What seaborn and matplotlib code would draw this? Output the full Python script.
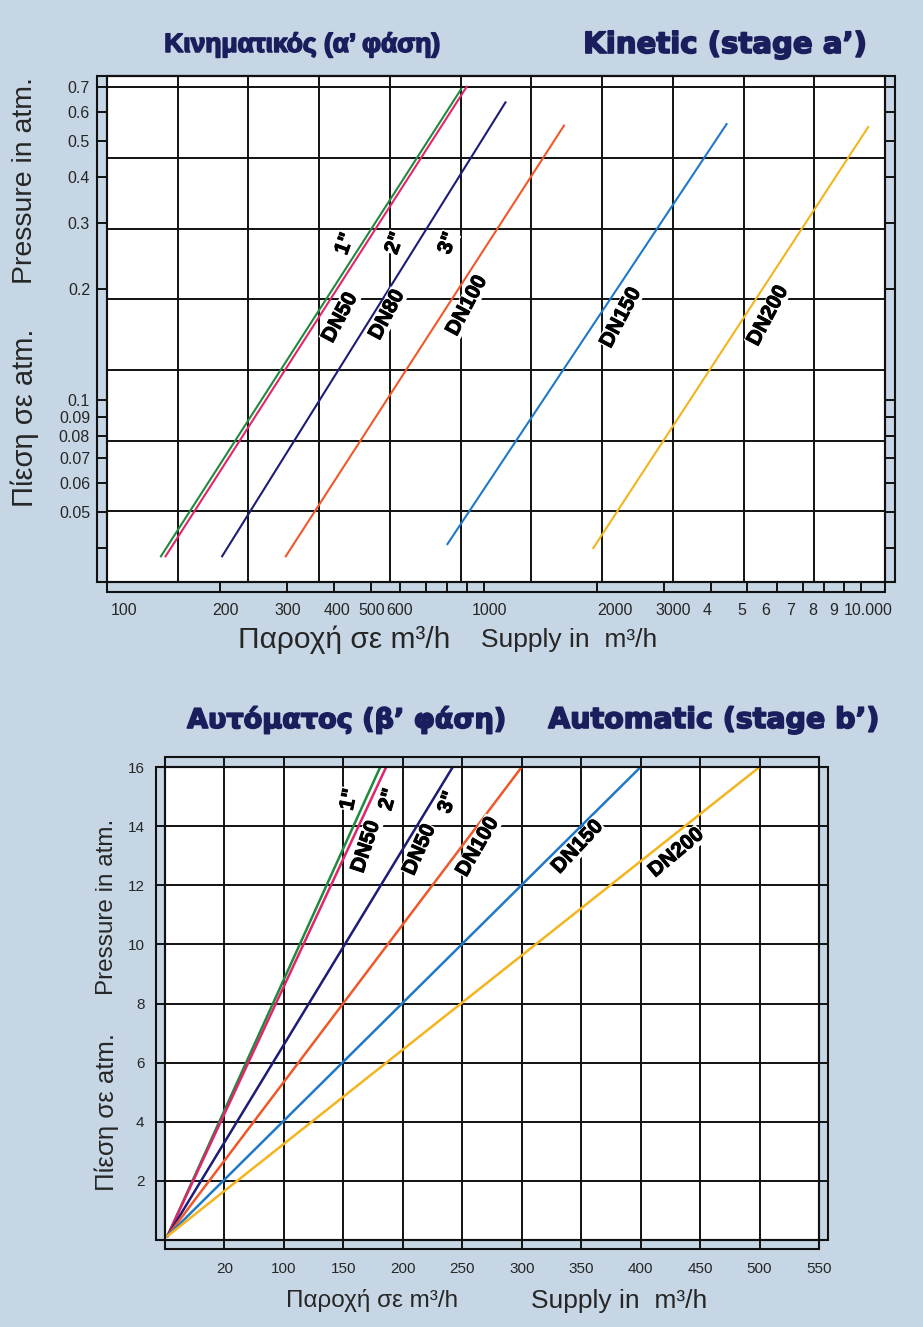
import matplotlib
matplotlib.use("Agg")
import pandas as pd
import seaborn as sns
import matplotlib.pyplot as plt
import matplotlib.patheffects as pe
from matplotlib.patches import Rectangle
from matplotlib.ticker import FixedLocator, FixedFormatter, NullLocator
from matplotlib.transforms import ScaledTranslation

# ---- Kinetic (stage a'), log-log: each curve is a straight segment
kin_sizes = ['1"', '2"', '3"', 'DN100', 'DN150', 'DN200']
kin_q_start = [139, 143, 202, 298, 800, 1950]
kin_q_end = [870, 900, 1140, 1630, 4400, 10450]
kin_p_start = [0.038, 0.038, 0.038, 0.038, 0.041, 0.040]
kin_p_end = [0.69, 0.70, 0.635, 0.55, 0.555, 0.545]

kin_labels = ['1"', '2"', '3"', 'DN50', 'DN80', 'DN100', 'DN150', 'DN200']
kin_label_q = [428, 581, 803, 415, 553, 901, 2308, 5666]
kin_label_p = [0.264, 0.265, 0.265, 0.167, 0.170, 0.180, 0.167, 0.169]
kin_label_rot = [70, 70, 70, 62, 62, 62, 62, 62]

kin_xticks = [100, 200, 300, 400, 500, 600, 700, 800, 900, 1000,
              2000, 3000, 4000, 5000, 6000, 7000, 8000, 9000, 10000]
kin_xlabels = ['100', '200', '300', '400', '500', '600', '', '', '', '1000',
               '2000', '3000', '4', '5', '6', '7', '8', '9', '10.000']
kin_yticks = [0.04, 0.05, 0.06, 0.07, 0.08, 0.09, 0.1, 0.2, 0.3, 0.4, 0.5, 0.6, 0.7]
kin_ylabels = ['', '0.05', '0.06', '0.07', '0.08', '0.09', '0.1',
               '0.2', '0.3', '0.4', '0.5', '0.6', '0.7']
# the printed labels sit a little off their tick marks (pixels)
kin_xlabel_dx = [4, 5, 1, 3, 1, -1, 0, 0, 0, 6, 17, 9, -4, -6, -12, -12, -12, -10, 7]

# ---- Automatic (stage b'), linear
auto_sizes = ['1"', '2"', '3"', 'DN100', 'DN150', 'DN200']
auto_q_start = [2, 2, 2, 2, 2, 2]
auto_q_end = [181, 186, 242, 300, 400, 500]
auto_p_start = [0.13, 0.13, 0.13, 0.13, 0.13, 0.13]
auto_p_end = [16, 16, 16, 16, 16, 16]

auto_labels = ['1"', '2"', '3"', 'DN50', 'DN50', 'DN100', 'DN150', 'DN200']
auto_label_q = [155, 188, 238, 169, 214, 263, 347, 430]
auto_label_p = [14.9, 14.9, 14.8, 13.3, 13.2, 13.3, 13.3, 13.1]
auto_label_rot = [78, 74, 70, 72, 66, 60, 47, 40]

auto_xticks = [0, 50, 100, 150, 200, 250, 300, 350, 400, 450, 500, 550]
auto_xlabels = ['', '20', '100', '150', '200', '250', '300', '350', '400', '450', '500', '550']
auto_yticks = [0, 2, 4, 6, 8, 10, 12, 14, 16]
auto_ylabels = ['', '2', '4', '6', '8', '10', '12', '14', '16']

line_colors = ['#1f8a3c', '#e3246c', '#1d1c78', '#f0582a', '#1f78c8', '#f4b41e']

W, H = 923, 1327
BG = '#c6d6e4'
INK = '#111111'
NAVY = '#1b1e5c'
TXT = '#262626'
plt.rcParams['font.family'] = ['Liberation Sans', 'DejaVu Sans']


def box(l, t, r, b):
    return [l / W, 1 - b / H, (r - l) / W, (b - t) / H]


def frame(fig, l, t, r, b):
    fig.add_artist(Rectangle((l / W, 1 - b / H), (r - l) / W, (b - t) / H,
                             transform=fig.transFigure, fill=False,
                             ec=INK, lw=1.5, zorder=5))


def to_long(sizes, q0, q1, p0, p1):
    rows = []
    for s, a, b, c, d in zip(sizes, q0, q1, p0, p1):
        rows.append({'size': s, 'q': a, 'p': c})
        rows.append({'size': s, 'q': b, 'p': d})
    return pd.DataFrame(rows)


def title(x, y, s, size, family):
    fig.text(x / W, 1 - y / H, s, ha='center', va='center', fontsize=size,
             fontweight='bold', color=NAVY, family=family,
             path_effects=[pe.withStroke(linewidth=1.2, foreground=NAVY)])


def plain(x, y, s, size, rot=0):
    fig.text(x / W, 1 - y / H, s, rotation=rot, ha='center', va='center',
             fontsize=size, color=TXT)


def curve_label(ax, q, p, s, r):
    ax.text(q, p, s, rotation=r, ha='center', va='center', fontsize=15,
            fontweight='bold', color='black', zorder=4,
            bbox=dict(fc='white', ec='none', pad=0.3),
            path_effects=[pe.withStroke(linewidth=0.7, foreground='black')])


fig = plt.figure(figsize=(W / 100, H / 100), dpi=100, facecolor=BG)

# =================== top chart ===================
grid_top = fig.add_axes(box(107, 76, 885, 582), zorder=0)
grid_top.set_facecolor('white')
grid_top.set_xlim(0, 11)
grid_top.set_ylim(0, 506 / 70.7)
grid_top.set_xticks(range(12))
grid_top.set_yticks(range(8))
grid_top.grid(True, color=INK, lw=1.4)
grid_top.tick_params(length=0, labelbottom=False, labelleft=False)
for s in grid_top.spines.values():
    s.set_visible(False)

ax1 = fig.add_axes(box(107, 76, 885, 582), zorder=1)
ax1.set_facecolor('none')
df_kin = to_long(kin_sizes, kin_q_start, kin_q_end, kin_p_start, kin_p_end)
sns.lineplot(data=df_kin, x='q', y='p', hue='size', hue_order=kin_sizes,
             palette=dict(zip(kin_sizes, line_colors)), estimator=None,
             sort=False, legend=False, lw=1.5, ax=ax1)
ax1.set_xscale('log')
ax1.set_yscale('log')
ax1.set_xlim(100, 11580)
ax1.set_ylim(0.0324, 0.748)
ax1.xaxis.set_major_locator(FixedLocator(kin_xticks))
ax1.xaxis.set_major_formatter(FixedFormatter(kin_xlabels))
ax1.xaxis.set_minor_locator(NullLocator())
ax1.yaxis.set_major_locator(FixedLocator(kin_yticks))
ax1.yaxis.set_major_formatter(FixedFormatter(kin_ylabels))
ax1.yaxis.set_minor_locator(NullLocator())
ax1.tick_params(axis='x', direction='out', length=7.2, width=1.4, color=INK,
                labelsize=11.5, labelcolor=TXT, pad=8)
ax1.tick_params(axis='y', direction='out', length=7.2, width=1.4, color=INK,
                left=True, right=True, labelsize=11.5, labelcolor=TXT, pad=5)
ax1.set_xlabel('')
ax1.set_ylabel('')
for lab, dx in zip(ax1.get_xticklabels(), kin_xlabel_dx):
    lab.set_transform(lab.get_transform() + ScaledTranslation(dx / 100, 0, fig.dpi_scale_trans))
ax1.get_xticklabels()[0].set_ha('left')
for s in ax1.spines.values():
    s.set_color(INK)
    s.set_linewidth(1.5)
for lab, q, p, r in zip(kin_labels, kin_label_q, kin_label_p, kin_label_rot):
    curve_label(ax1, q, p, lab, r)
frame(fig, 97, 76, 895, 582)
frame(fig, 107, 76, 885, 592)

title(302, 45, 'Κινηματικός (α’ φάση)', 19, 'Liberation Sans')
title(725, 45, 'Kinetic (stage a’)', 21, 'DejaVu Sans')
plain(25, 180, 'Pressure in atm.', 20.5, 90)
plain(25, 418, 'Πίεση σε atm.', 21, 90)
plain(344, 640, 'Παροχή σε m³/h', 21.5)
plain(569, 640, 'Supply in  m³/h', 19)

# =================== bottom chart ===================
ax2 = fig.add_axes(box(165, 767, 819, 1240))
ax2.set_facecolor('white')
df_auto = to_long(auto_sizes, auto_q_start, auto_q_end, auto_p_start, auto_p_end)
sns.lineplot(data=df_auto, x='q', y='p', hue='size', hue_order=auto_sizes,
             palette=dict(zip(auto_sizes, line_colors)), estimator=None,
             sort=False, legend=False, lw=1.8, ax=ax2)
ax2.set_xlim(0, 550)
ax2.set_ylim(0, 16)
ax2.set_xticks(auto_xticks)
ax2.set_xticklabels(auto_xlabels)
ax2.set_yticks(auto_yticks)
ax2.set_yticklabels(auto_ylabels)
ax2.set_axisbelow(True)
ax2.grid(True, color=INK, lw=1.4)
ax2.tick_params(direction='out', length=6.8, width=1.4, color=INK,
                top=True, right=True, labelsize=11, labelcolor=TXT)
ax2.tick_params(axis='x', pad=9)
ax2.tick_params(axis='y', pad=8)
ax2.set_xlabel('')
ax2.set_ylabel('')
for s in ax2.spines.values():
    s.set_color(INK)
    s.set_linewidth(1.5)
for lab, q, p, r in zip(auto_labels, auto_label_q, auto_label_p, auto_label_rot):
    curve_label(ax2, q, p, lab, r)
frame(fig, 165, 757, 819, 1249)
frame(fig, 156, 767, 828, 1240)

title(347, 720, 'Αυτόματος (β’ φάση)', 19.5, 'DejaVu Sans')
title(714, 720, 'Automatic (stage b’)', 20.5, 'DejaVu Sans')
plain(107, 907, 'Pressure in atm.', 17.5, 90)
plain(107, 1112, 'Πίεση σε atm.', 18.5, 90)
plain(372, 1301, 'Παροχή σε m³/h', 17.5)
plain(619, 1301, 'Supply in  m³/h', 19)

fig.savefig('out.png', dpi=100, facecolor=BG)
